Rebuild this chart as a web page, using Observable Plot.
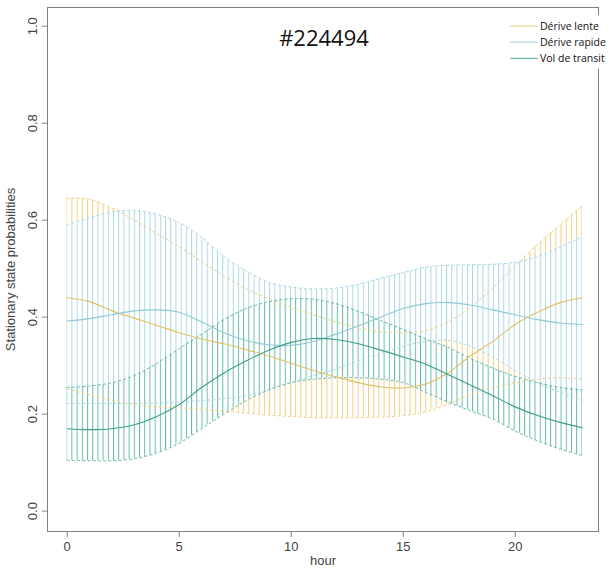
<!DOCTYPE html>
<html><head><meta charset="utf-8">
<script src="https://cdn.jsdelivr.net/npm/d3@7"></script>
<script src="https://cdn.jsdelivr.net/npm/@observablehq/plot@0.6"></script>
<style>
body{margin:0;background:#fff;}
#chart{position:relative;width:614px;height:576px;}
</style></head><body><div id="chart"></div>
<script>
const hours = [0,1,2,3,4,5,6,7,8,9,10,11,12,13,14,15,16,17,18,19,20,21,22,23];

const lenteMean = [.44,.432,.413,.398,.383,.368,.355,.345,.333,.32,.305,.29,.277,.265,.256,.254,.262,.285,.32,.35,.385,.41,.43,.44];
const lenteLow  = [.252,.24,.228,.22,.215,.213,.21,.206,.202,.198,.195,.193,.193,.193,.194,.197,.205,.22,.24,.255,.265,.272,.275,.272];
const lenteHigh = [.645,.643,.625,.6,.572,.545,.515,.485,.458,.438,.42,.405,.39,.378,.37,.368,.372,.39,.42,.46,.505,.55,.59,.63];

const rapideMean = [.392,.397,.405,.413,.415,.41,.39,.368,.352,.343,.342,.35,.365,.382,.4,.418,.428,.43,.425,.415,.405,.395,.388,.385];
const rapideLow  = [.222,.222,.222,.222,.223,.225,.228,.232,.238,.25,.265,.28,.293,.31,.325,.34,.35,.352,.34,.318,.29,.265,.245,.228];
const rapideHigh = [.59,.605,.617,.62,.612,.595,.565,.525,.495,.472,.462,.458,.46,.468,.48,.492,.503,.507,.508,.509,.513,.525,.545,.565];

const transitMean = [.17,.168,.17,.178,.195,.22,.255,.285,.31,.332,.348,.356,.354,.345,.332,.318,.303,.282,.26,.238,.215,.197,.183,.172];
const transitLow  = [.105,.104,.104,.108,.12,.14,.17,.2,.228,.25,.265,.272,.275,.275,.272,.265,.245,.225,.207,.19,.165,.145,.128,.115];
const transitHigh = [.255,.258,.265,.28,.305,.335,.365,.395,.418,.432,.438,.437,.428,.412,.393,.375,.355,.338,.315,.295,.278,.265,.255,.25];

const seriesNames = ["Dérive lente","Dérive rapide","Vol de transit"];
const xTicks = [0,5,10,15,20];
const yTicks = [0,0.2,0.4,0.6,0.8,1.0];
const title = "#224494";

const series = [
  {name:seriesNames[0], key:"lente", bar:"#EDD084", line:"#E0C262", legend:"#F0DC9C", mean:lenteMean, low:lenteLow, high:lenteHigh},
  {name:seriesNames[1], key:"rapide", bar:"#ABD8E5", line:"#90C8D8", legend:"#BCDDE6", mean:rapideMean, low:rapideLow, high:rapideHigh},
  {name:seriesNames[2], key:"transit", bar:"#66B9A9", line:"#3E9E8C", legend:"#72BCAF", mean:transitMean, low:transitLow, high:transitHigh}
];
const rows = series.flatMap(s => hours.map((h,i)=>({series:s.name, key:s.key, hour:h, mean:s.mean[i], low:s.low[i], high:s.high[i]})));
const curve = "catmull-rom";

const marks = [];
for (const s of series) {
  const d = rows.filter(r=>r.key===s.key);
  marks.push(Plot.areaY(d, {x:"hour", y1:"low", y2:"high", fill:"#fff", curve}));
  marks.push(Plot.areaY(d, {x:"hour", y1:"low", y2:"high", fill:`url(#pat-${s.key})`, curve}));
}
for (const s of series) {
  const d = rows.filter(r=>r.key===s.key);
  marks.push(Plot.line(d, {x:"hour", y:"low", stroke:s.bar, strokeWidth:1, strokeDasharray:"2.2,3", curve}));
  marks.push(Plot.line(d, {x:"hour", y:"high", stroke:s.bar, strokeWidth:1, strokeDasharray:"2.2,3", curve}));
}
for (const s of series) {
  marks.push(Plot.line(rows.filter(r=>r.key===s.key), {x:"hour", y:"mean", stroke:s.line, strokeWidth:1.1, curve}));
}
marks.push(Plot.frame({stroke:"#808080"}));
marks.push(Plot.axisX({ticks:xTicks, tickSize:6, tickPadding:4, fontSize:13, stroke:"#808080", label:"hour", labelAnchor:"center", labelArrow:"none", labelOffset:33}));
marks.push(Plot.axisY({ticks:yTicks, tickFormat:d3.format(".1f"), tickSize:5, tickPadding:6, tickRotate:-90, fontSize:13, stroke:"#808080", label:"Stationary state probabilities", labelAnchor:"center", labelArrow:"none", labelOffset:42}));

const chart = Plot.plot({
  width:614, height:576,
  marginLeft:47, marginRight:16, marginTop:7, marginBottom:45,
  x:{domain:[-0.879, 23.72]},
  y:{domain:[-0.042, 1.0386]},
  style:{fontFamily:"'Liberation Sans', Arial, sans-serif", fontSize:"13px", color:"#444", background:"#fff"},
  marks
});
document.getElementById("chart").appendChild(chart);

const svg = d3.select(chart);
const xs = chart.scale("x");
const x0 = xs.apply(0), x23 = xs.apply(23);
const step = (x23 - x0) / 99;
svg.insert("defs", ":first-child").html(series.map(s =>
  `<pattern id="pat-${s.key}" patternUnits="userSpaceOnUse" x="${x0-0.5}" y="0" width="${step}" height="8"><rect x="0" y="0" width="1" height="8" fill="${s.bar}"/></pattern>`).join(""));

// title
svg.append("text").attr("x",324).attr("y",46).attr("text-anchor","middle")
  .attr("font-family","'Open Sans', 'Noto Sans', sans-serif").attr("font-size",22).attr("fill","#111").text(title);

// legend
const lg = svg.append("g");
lg.append("rect").attr("x",500).attr("y",15).attr("width",114).attr("height",54).attr("fill","#fff");
series.forEach((s,i)=>{
  const y = 26 + 16.2*i;
  lg.append("line").attr("x1",510).attr("x2",538).attr("y1",y).attr("y2",y).attr("stroke",s.legend).attr("stroke-width",1.3);
  lg.append("text").attr("x",540).attr("y",y+3.5).attr("text-anchor","start").attr("font-family","'Open Sans', 'Noto Sans', sans-serif").attr("font-size",10.5).attr("fill","#111").text(s.name);
});
</script></body></html>
